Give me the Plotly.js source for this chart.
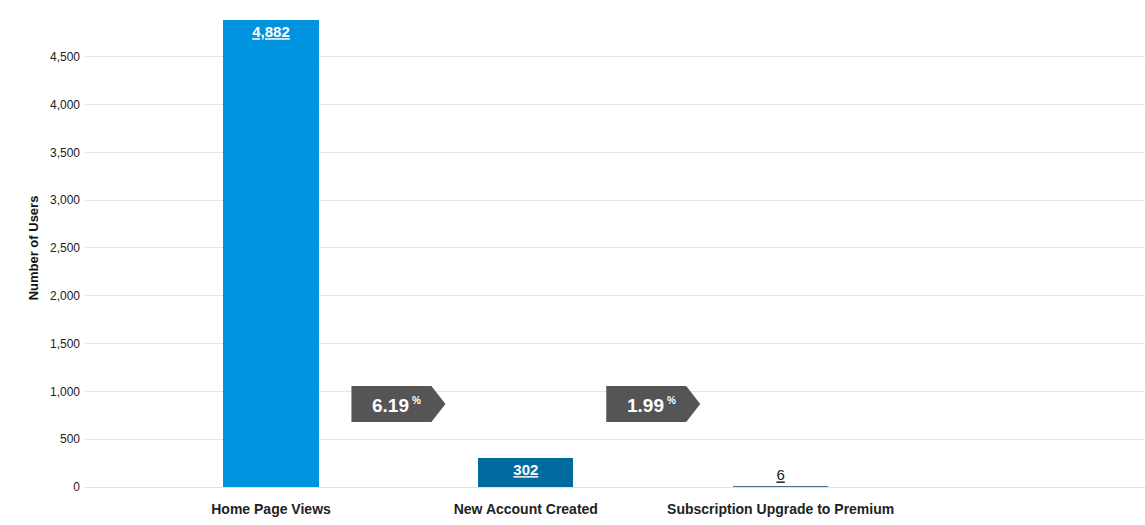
<!DOCTYPE html>
<html>
<head>
<meta charset="utf-8">
<script src="https://cdn.plot.ly/plotly-3.0.1.min.js"></script>
<style>html,body{margin:0;padding:0;background:#fff;}#chart{width:1145px;height:525px;}</style>
</head>
<body>
<div id="chart"></div>
<script>
const categories = ['Home Page Views', 'New Account Created', 'Subscription Upgrade to Premium'];
const users = [4882, 302, 6];
const conversionRates = [6.19, 1.99];

const barColors = ['#0093DF', '#006B9F', '#4A7090'];
const textPositions = ['inside', 'inside', 'outside'];
const textColors = ['#ffffff', '#ffffff', '#222222'];
const FONT = 'Liberation Sans, Arial, sans-serif';

const trace = {
  type: 'bar',
  x: categories.map((c, i) => i),
  y: users,
  width: 0.373,
  marker: { color: barColors },
  text: users.map((v, i) => textPositions[i] === 'inside'
    ? '<b><u>' + v.toLocaleString('en-US') + '</u></b>'
    : '<u>' + v.toLocaleString('en-US') + '</u>'),
  textposition: textPositions,
  insidetextanchor: 'end',
  textfont: { family: FONT, size: 15, color: textColors },
  outsidetextfont: { family: FONT, size: 15, color: '#222222' },
  cliponaxis: false,
  hoverinfo: 'skip'
};

const ARROW_Y = 0.1736;

const shapes = conversionRates.map((r, i) => ({
  type: 'path',
  xref: 'x', yref: 'paper',
  xsizemode: 'pixel', ysizemode: 'pixel',
  xanchor: i + 0.5, yanchor: ARROW_Y,
  path: 'M-47,-18 L33,-18 L47,0 L33,18 L-47,18 Z',
  fillcolor: '#555555',
  line: { width: 0 }
}));

const annotations = [];
conversionRates.forEach((r, i) => {
  annotations.push({
    x: i + 0.5, xref: 'x',
    y: ARROW_Y, yref: 'paper',
    xanchor: 'right', yanchor: 'middle',
    xshift: 13, yshift: -1,
    text: '<b>' + r.toFixed(2) + '</b>',
    showarrow: false,
    font: { family: FONT, size: 19, color: '#ffffff' }
  });
  annotations.push({
    x: i + 0.5, xref: 'x',
    y: ARROW_Y, yref: 'paper',
    xanchor: 'left', yanchor: 'middle',
    xshift: 12, yshift: 4,
    text: '<b>%</b>',
    showarrow: false,
    font: { family: FONT, size: 10, color: '#ffffff' }
  });
});

const layout = {
  width: 1145, height: 525,
  margin: { l: 85, r: 0, t: 9, b: 38 },
  paper_bgcolor: '#ffffff', plot_bgcolor: '#ffffff',
  showlegend: false,
  bargap: 0,
  xaxis: {
    range: [-0.73, 3.43],
    tickmode: 'array',
    tickvals: categories.map((c, i) => i),
    ticktext: categories.map(c => '<b>' + c + '</b>'),
    tickfont: { family: FONT, size: 14, color: '#222222' },
    ticklabelstandoff: 12,
    showgrid: false, zeroline: false, showline: false, ticks: '',
    fixedrange: true
  },
  yaxis: {
    range: [0, 4999],
    dtick: 500,
    tickformat: ',d',
    tickfont: { family: FONT, size: 12, color: '#222222' },
    gridcolor: '#e6e6e6', gridwidth: 1,
    zeroline: true, zerolinecolor: '#e0e0e0', zerolinewidth: 1,
    showline: false, ticks: '',
    ticklabelstandoff: 4,
    title: { text: '<b>Number of Users</b>', standoff: 8,
      font: { family: FONT, size: 13, color: '#111111' } },
    fixedrange: true
  },
  shapes: shapes,
  annotations: annotations,
  font: { family: FONT }
};

Plotly.newPlot('chart', [trace], layout, { displayModeBar: false, staticPlot: true });
</script>
</body>
</html>
